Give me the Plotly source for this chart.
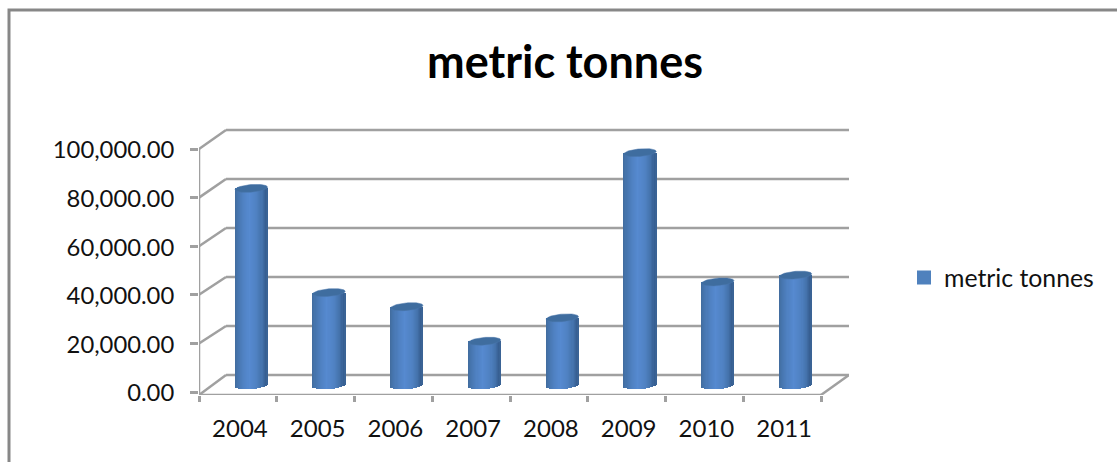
import numpy as np
import plotly.graph_objects as go

# Annual tonnage plotted as shaded cylinders standing on an oblique floor
years = ["2004", "2005", "2006", "2007", "2008", "2009", "2010", "2011"]
tonnes = [80300, 37400, 31600, 17400, 27000, 95000, 41800, 44600]
value_ticks = [0, 20000, 40000, 60000, 80000, 100000]
series_name = "metric tonnes"

FONT = "Lato"
GREY = "#a0a0a0"
W, H = 1117, 462

# Pixel frame of the plotting box and its data scale
LEFT, RIGHT, TOP, BOTTOM = 199, 849, 125, 395
PX_PER_CAT = 77.75
PX_PER_UNIT = 2.43 / 1000
ZERO_PX = 392

x_end = (RIGHT - LEFT) / PX_PER_CAT
y_low = (ZERO_PX - BOTTOM) / PX_PER_UNIT
y_high = (ZERO_PX - TOP) / PX_PER_UNIT

# Oblique depth of the floor and back wall
depth_x = 27 / PX_PER_CAT
back_lift = 7000
back_stretch = 1.008
n_cats = len(years)


def back_y(v):
    return v * back_stretch + back_lift


def line(x0, y0, x1, y1):
    return dict(type="line", xref="x", yref="y", x0=x0, y0=y0, x1=x1, y1=y1,
                layer="below", line=dict(color=GREY, width=2.5))


shapes = []
for v in value_ticks:
    if v > 0:
        shapes.append(line(0, v, depth_x, back_y(v)))
    shapes.append(line(depth_x, back_y(v), x_end, back_y(v)))
shapes += [
    line(0, y_low, 0, value_ticks[-1]),
    line(0, y_low, depth_x, back_y(0)),
    line(0, y_low, n_cats, y_low),
    line(n_cats, y_low, x_end, back_y(0)),
]


def paper_x(px):
    return px / W


def paper_y(px):
    return 1 - px / H


# Outer chart frame: left and top edges
shapes.append(dict(type="path", xref="paper", yref="paper",
                   path=f"M{paper_x(9)},0 L{paper_x(9)},{paper_y(10)} L1,{paper_y(10)}",
                   line=dict(color="#878787", width=3), layer="below"))

# Cylinder geometry
half_w = 16.2 / PX_PER_CAT
cx = [i + 0.5 + 13.4 / PX_PER_CAT for i in range(n_cats)]
ell_b = 3.8 / PX_PER_UNIT
ell_tilt = 1.3 / PX_PER_UNIT
mid_lift = (ZERO_PX - 383.5) / PX_PER_UNIT
base_lift = (ZERO_PX - 385.3) / PX_PER_UNIT

fig = go.Figure()

# Flat-coloured bar carries the legend entry; shaded strips are laid over it
fig.add_trace(go.Bar(
    x=cx, y=[v + mid_lift - base_lift for v in tonnes], base=base_lift,
    width=half_w * 1.6, name=series_name,
    marker=dict(color="#4f81bd", line=dict(color="#4f81bd", width=2)),
    hoverinfo="skip", showlegend=True,
))

# Side of each cylinder, lit from just left of centre
n_strips = 30
stops_t = [-1.0, -0.82, -0.45, -0.1, 0.35, 0.7, 0.92, 1.0]
stops_rgb = np.array([
    [66, 108, 158], [70, 117, 174], [80, 130, 195], [86, 138, 208],
    [80, 130, 195], [68, 114, 171], [54, 94, 144], [62, 104, 154],
])
for s in range(n_strips):
    t = -1 + (2 * s + 1) / n_strips
    rgb = [int(np.interp(t, stops_t, stops_rgb[:, k])) for k in range(3)]
    drop = ell_b * np.sqrt(1 - t * t) - ell_tilt * t
    fig.add_trace(go.Bar(
        x=[c + t * half_w for c in cx],
        y=[v + mid_lift - base_lift + drop for v in tonnes],
        base=base_lift - drop,
        width=2 * half_w / n_strips * 1.08,
        marker=dict(color=f"rgb({rgb[0]},{rgb[1]},{rgb[2]})", line=dict(width=0)),
        hoverinfo="skip", showlegend=False,
    ))

# Top cap of each cylinder
theta = np.linspace(0, 2 * np.pi, 60)
for c, v in zip(cx, tonnes):
    fig.add_trace(go.Scatter(
        x=c + half_w * np.cos(theta),
        y=v + mid_lift + ell_b * np.sin(theta) + ell_tilt * np.cos(theta),
        mode="lines", fill="toself", fillcolor="#3f6d9f",
        line=dict(color="#4a77aa", width=0.5),
        hoverinfo="skip", showlegend=False,
    ))

fig.update_layout(
    width=W, height=H,
    margin=dict(l=0, r=0, t=0, b=0, autoexpand=False),
    paper_bgcolor="white", plot_bgcolor="white",
    barmode="overlay", bargap=0,
    font=dict(family=FONT, color="#111111", size=24),
    title=dict(text=f"<b>{series_name}</b>", x=565 / W, xanchor="center",
               y=paper_y(62), yanchor="middle", yref="container",
               font=dict(family=FONT, size=45, color="#000000")),
    shapes=shapes,
    showlegend=True,
    legend=dict(x=paper_x(904), y=paper_y(278), xanchor="left", yanchor="middle",
                font=dict(family=FONT, size=24.8, color="#111111"),
                bgcolor="rgba(0,0,0,0)"),
    xaxis=dict(
        domain=[paper_x(LEFT), paper_x(RIGHT)], range=[0, x_end],
        showgrid=False, zeroline=False, showline=False,
        tickmode="array", tickvals=[i + 0.5 for i in range(n_cats)], ticktext=years,
        ticks="", ticklabelstandoff=17, ticklabelshift=2,
        minor=dict(tickmode="array", tickvals=list(range(n_cats + 1)), ticks="outside",
                   ticklen=6, tickwidth=2.5, tickcolor=GREY, showgrid=False),
        tickfont=dict(family=FONT, size=24),
        fixedrange=True,
    ),
    yaxis=dict(
        domain=[paper_y(BOTTOM), paper_y(TOP)], range=[y_low, y_high],
        showgrid=False, zeroline=False, showline=False,
        tickmode="array", tickvals=value_ticks, tickformat=",.2f",
        ticks="outside", ticklen=8, tickwidth=2.5, tickcolor=GREY,
        ticklabelstandoff=11, ticklabelshift=1,
        tickfont=dict(family=FONT, size=23.8),
        fixedrange=True,
    ),
)

fig.write_html("out.html", config=dict(displayModeBar=False))
